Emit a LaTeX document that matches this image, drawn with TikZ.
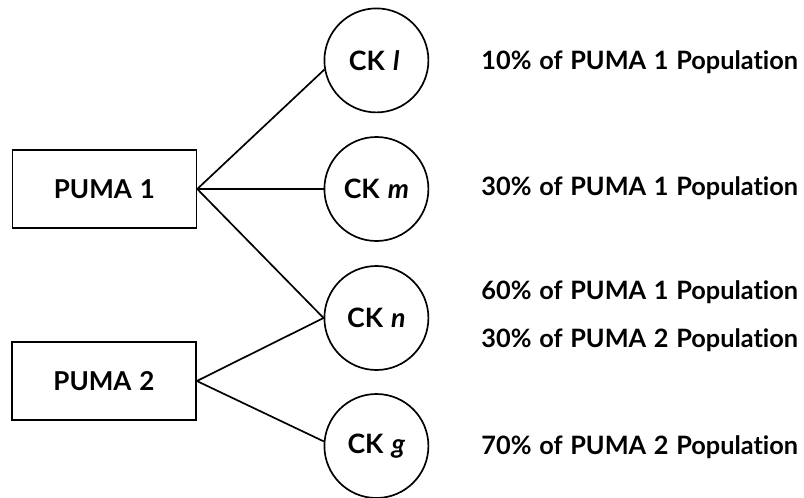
\documentclass[tikz,border=0pt]{standalone}
\usepackage{fontspec}
\setmainfont[Ligatures=NoCommon, WordSpace=1.25]{Lato}

\tikzset{
    puma/.style={draw, rectangle, line width=1.2pt, minimum width=4.6cm, minimum height=1.95cm, font=\fontsize{18.5}{22}\selectfont\bfseries},
    ck/.style={draw, circle, line width=1.2pt, minimum size=2.6cm, inner sep=0pt, font=\fontsize{19}{22}\selectfont\bfseries},
    share/.style={anchor=base west, inner sep=0pt, font=\fontsize{18}{22}\selectfont\bfseries}
}

\begin{document}
\begin{tikzpicture}
    \useasboundingbox (0,0) rectangle (20.1,-12.45);

    \node (P1) at (2.61,-4.725) [puma] {PUMA 1};
    \node (P2) at (2.6,-9.525) [puma] {PUMA 2};

    \node (L) at (9.41,-1.51) [ck] {CK \textit{l}\,};
    \node (M) at (9.41,-4.725) [ck] {CK \textit{m}};
    \node (N) at (9.41,-7.95) [ck] {CK \textit{n}};
    \node (G) at (9.41,-11.15) [ck] {CK \textit{g}};

    \node (tl) at (12.03,-1.75) [share] {10\% of PUMA 1 Population};
    \node (tm) at (12.03,-4.9) [share] {30\% of PUMA 1 Population};
    \node (tn1) at (12.03,-7.475) [share] {60\% of PUMA 1 Population};
    \node (tn2) at (12.03,-8.675) [share] {30\% of PUMA 2 Population};
    \node (tg) at (12.03,-11.35) [share] {70\% of PUMA 2 Population};

    \draw[line width=1.2pt] (P1.east) -- (L.190);
    \draw[line width=1.2pt] (P1.east) -- (M.west);
    \draw[line width=1.2pt] (P1.east) -- (N.west);
    \draw[line width=1.2pt] (P2.east) -- (N.west);
    \draw[line width=1.2pt] (P2.east) -- (G.175);
\end{tikzpicture}
\end{document}
